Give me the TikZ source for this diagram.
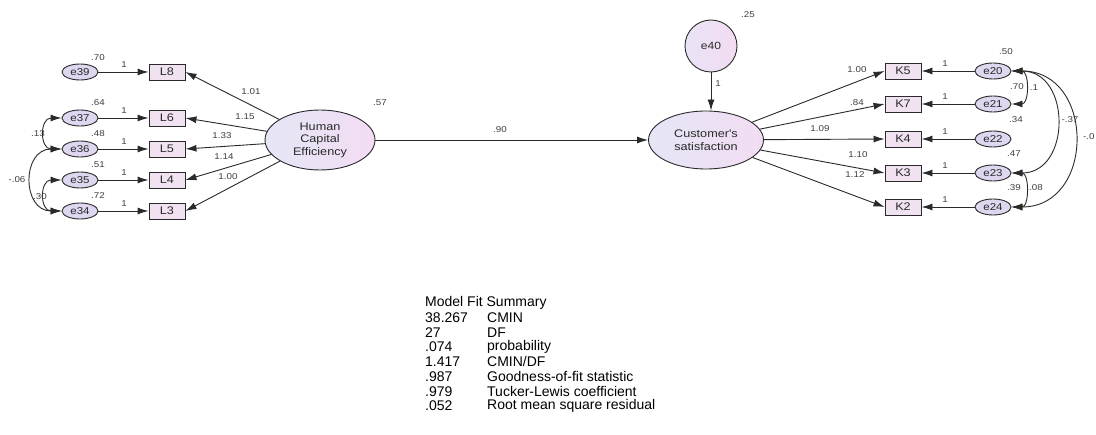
\documentclass[tikz,border=0pt]{standalone}
\usepackage{fontspec}
\setmainfont{Liberation Sans}
\newfontfamily\diagfont{Liberation Sans}[FakeStretch=1.15]
\usetikzlibrary{shapes.geometric,arrows.meta}
\definecolor{latL}{HTML}{E4E6F6}
\definecolor{latR}{HTML}{F3DCF3}
\definecolor{obsfill}{HTML}{F1E2F2}
\definecolor{errfill}{HTML}{DFD6F0}
\definecolor{ink}{HTML}{2A2A2A}
\tikzset{
  latent/.style={ellipse,draw=ink,line width=0.9pt,left color=latL,right color=latR,
    inner sep=0pt,align=center,font=\diagfont\fontsize{11}{12.5}\selectfont,text=ink},
  obsbox/.style={rectangle,draw=ink,line width=0.9pt,fill=obsfill,minimum width=36pt,
    minimum height=16pt,inner sep=0pt,font=\diagfont\fontsize{11}{11}\selectfont,text=ink},
  errnode/.style={ellipse,draw=ink,line width=0.9pt,fill=errfill,minimum width=36pt,
    minimum height=16pt,inner sep=0pt,font=\diagfont\fontsize{10}{10}\selectfont,text=ink},
  tip/.tip={Latex[length=11pt,width=7pt]},
  arr/.style={draw=ink,line width=0.9pt,-tip},
  dbl/.style={draw=ink,line width=0.9pt,tip-tip},
  lab/.style={font=\diagfont\fontsize{8.5}{8.5}\selectfont,text=ink!90,inner sep=0pt},
  fit/.style={font=\fontsize{14}{14}\selectfont,text=black,anchor=west,inner sep=0pt}
}
\begin{document}
\begin{tikzpicture}[x=1pt,y=-1pt]
\useasboundingbox (0,0) rectangle (1096,435);
\fill[white] (0,0) rectangle (1096,435);

% latent variables
\node[latent,minimum width=110pt,minimum height=60pt] (hce) at (320,140) {Human\\Capital\\Efficiency};
\node[latent,minimum width=115pt,minimum height=58pt] (cs) at (706,140) {Customer's\\satisfaction};
\node[circle,draw=ink,line width=0.9pt,left color=latL!70!latR,right color=latR,minimum size=52pt,
  inner sep=0pt,font=\diagfont\fontsize{10.5}{10.5}\selectfont,text=ink] (e40) at (711,46) {e40};

% indicators of Human Capital Efficiency
\foreach \n/\e/\y in {8/39/72,6/37/118,5/36/149,4/35/180,3/34/211}{
  \node[obsbox] (L\n) at (167,\y) {L\n};
  \node[errnode] (e\e) at (80,\y) {e\e};
  \draw[arr] (e\e) -- (L\n.west);
  \draw[arr] (hce) -- (L\n.east);
  \node[lab] (onel\n) at (124,\y-7) {1};
}
\node[lab] (v39) at (98,58) {.70};
\node[lab] (v37) at (98,103) {.64};
\node[lab] (v36) at (98,134) {.48};
\node[lab] (v35) at (98,165) {.51};
\node[lab] (v34) at (98,196) {.72};
\node[lab] (w8) at (251,92) {1.01};
\node[lab] (w6) at (245,117) {1.15};
\node[lab] (w5) at (222,136) {1.33};
\node[lab] (w4) at (224,157) {1.14};
\node[lab] (w3) at (228,177) {1.00};
\node[lab] (vh) at (380,103) {.57};

% error covariances, left
\draw[dbl] (e37.west) to[out=180,in=180,distance=22pt] (e36.west);
\draw[dbl] (e36.west) to[out=180,in=180,distance=40pt] (e34.west);
\draw[dbl] (e35.west) to[out=180,in=180,distance=22pt] (e34.west);
\node[lab] (c3736) at (38,134) {.13};
\node[lab] (c3634) at (17,180) {-.06};
\node[lab] (c3534) at (40,197) {.30};

% structural path
\draw[arr] (hce) -- (cs);
\node[lab] (b1) at (500,130) {.90};

% disturbance
\draw[arr] (e40.south) -- (e40.south |- cs.north);
\node[lab] (one40) at (718,84) {1};
\node[lab] (v40) at (748,15) {.25};

% indicators of Customer's satisfaction
\foreach \n/\y/\e in {5/71/20,7/104/21,4/139/22,3/173/23,2/207/24}{
  \node[obsbox] (K\n) at (903,\y) {K\n};
  \node[errnode] (e\e) at (993,\y) {e\e};
  \draw[arr] (cs) -- (K\n.west);
  \draw[arr] (e\e) -- (K\n.east);
  \node[lab] (onek\n) at (945,\y-7) {1};
}
\node[lab] (k5) at (857,70) {1.00};
\node[lab] (k7) at (857,103) {.84};
\node[lab] (k4) at (820,129) {1.09};
\node[lab] (k3) at (858,155) {1.10};
\node[lab] (k2) at (855,175) {1.12};
\node[lab] (v20) at (1006,52) {.50};
\node[lab] (v21) at (1017,87) {.70};
\node[lab] (v22) at (1016,120) {.34};
\node[lab] (v23) at (1014,154) {.47};
\node[lab] (v24) at (1014,188) {.39};

% error covariances, right
\draw[dbl] (e20.east) to[out=0,in=0,distance=18pt] (e21.east);
\draw[dbl] (e23.east) to[out=0,in=0,distance=18pt] (e24.east);
\draw[dbl] (e20.east) to[out=0,in=0,distance=60pt] (e23.east);
\draw[dbl] (e20.east) to[out=0,in=0,distance=84pt] (e24.east);
\node[lab] (c2021) at (1034,88) {.1};
\node[lab] (c2324) at (1036,188) {.08};
\node[lab] (c2023) at (1070,120) {-.37};
\node[lab,anchor=west] (c2024) at (1083,137) {-.0};

% fit summary
\node[fit] (fithead) at (425,303) {Model Fit Summary};
\foreach \i/\a/\b in {1/38.267/CMIN,2/27/DF,3/.074/probability,4/1.417/CMIN\slash DF,
  5/.987/Goodness-of-fit statistic,6/.979/Tucker-Lewis coefficient,7/.052/Root mean square residual}{
  \node[fit] (fa\i) at (425,303+\i*14.7) {\a};
  \node[fit] (fb\i) at (487,303+\i*14.7) {\b};
}
\end{tikzpicture}
\end{document}
